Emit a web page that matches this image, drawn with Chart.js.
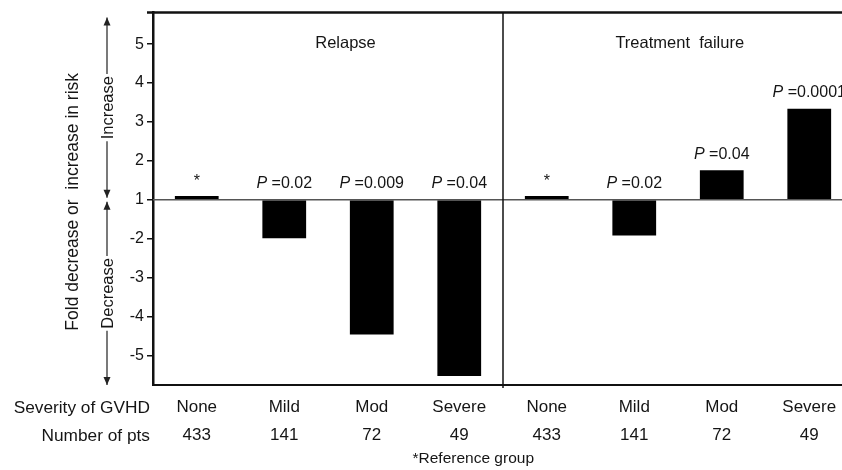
<!DOCTYPE html>
<html>
<head>
<meta charset="utf-8">
<script src="https://cdn.jsdelivr.net/npm/chart.js@4/dist/chart.umd.min.js"></script>
<style>
  html, body { margin: 0; padding: 0; overflow: hidden; background: #fff; }
  #wrap { width: 856px; height: 470px; position: relative; }
</style>
</head>
<body>
<div id="wrap"><canvas id="gvhd-chart"></canvas></div>
<script>
var categories = ['None', 'Mild', 'Mod', 'Severe', 'None', 'Mild', 'Mod', 'Severe'];
var patients = [433, 141, 72, 49, 433, 141, 72, 49];
var relapseFold = [1.1, -1.99, -4.46, -5.53];
var failureFold = [1.1, -1.92, 1.76, 3.34];
var pValues = ['*', '0.02', '0.009', '0.04', '*', '0.02', '0.04', '0.0001'];
var panelTitles = ['Relapse', 'Treatment  failure'];

var FONT = '"Liberation Sans", Arial, Helvetica, sans-serif';
var INK = '#151515';

// fold 1 sits on the zero line, -2 is one step below it, 2 one step above
function toAxis(f) { return f >= 1 ? f - 1 : f + 1; }
function toFold(v) { return v >= 0 ? v + 1 : v - 1; }

var values = relapseFold.concat(failureFold).map(toAxis);

var extras = {
  id: 'extras',
  beforeDatasetsDraw: function (chart) {
    var c = chart.ctx, a = chart.chartArea, y = chart.scales.y;
    var y0 = y.getPixelForValue(0);
    c.save();
    c.strokeStyle = '#555';
    c.lineWidth = 1.5;
    c.beginPath();
    c.moveTo(a.left, y0);
    c.lineTo(a.right, y0);
    c.stroke();
    c.restore();
  },
  afterDraw: function (chart) {
    var c = chart.ctx, a = chart.chartArea, x = chart.scales.x, y = chart.scales.y;
    var y0 = y.getPixelForValue(0);
    c.save();

    // frame top + panel divider
    c.strokeStyle = '#111';
    c.lineWidth = 2.5;
    c.beginPath();
    c.moveTo(a.left - 6, a.top);
    c.lineTo(a.right, a.top);
    c.stroke();
    var xd = x.getPixelForValue(3.5);
    c.lineWidth = 1.5;
    c.beginPath();
    c.moveTo(xd, a.top);
    c.lineTo(xd, a.bottom + 3);
    c.stroke();

    // panel titles
    c.fillStyle = INK;
    c.textAlign = 'center';
    c.textBaseline = 'middle';
    c.font = '16.5px ' + FONT;
    c.fillText(panelTitles[0], x.getPixelForValue(1.7), a.top + 31);
    c.fillText(panelTitles[1], x.getPixelForValue(5.52), a.top + 31);

    // p value labels
    values.forEach(function (v, i) {
      var cx = x.getPixelForValue(i);
      var ty = y.getPixelForValue(Math.max(v, 0)) - 16;
      if (pValues[i] === '*') {
        c.font = '16px ' + FONT;
        c.textAlign = 'center';
        c.fillText('*', cx, ty + 2);
        return;
      }
      var head = 'P', tail = ' =' + pValues[i];
      c.font = 'italic 16px ' + FONT;
      var w1 = c.measureText(head).width;
      c.font = '16px ' + FONT;
      var w2 = c.measureText(tail).width;
      var sx = cx - (w1 + w2) / 2;
      c.textAlign = 'left';
      c.font = 'italic 16px ' + FONT;
      c.fillText(head, sx, ty);
      c.font = '16px ' + FONT;
      c.fillText(tail, sx + w1, ty);
    });

    // y title
    c.textAlign = 'center';
    c.font = '17.5px ' + FONT;
    c.save();
    c.translate(73, (a.top + a.bottom) / 2 + 3);
    c.rotate(-Math.PI / 2);
    c.fillText('Fold decrease or  increase in risk', 0, 0);
    c.restore();

    // increase / decrease arrows
    var ax = 107;
    function arrowPart(y1, y2, label) {
      c.font = '16.5px ' + FONT;
      var half = c.measureText(label).width / 2 + 2;
      var mid = (y1 + y2) / 2;
      c.strokeStyle = '#222';
      c.lineWidth = 1.2;
      c.beginPath();
      c.moveTo(ax, y1); c.lineTo(ax, mid - half);
      c.moveTo(ax, mid + half); c.lineTo(ax, y2);
      c.stroke();
      c.fillStyle = '#222';
      [[y1, 1], [y2, -1]].forEach(function (h) {
        c.beginPath();
        c.moveTo(ax, h[0]);
        c.lineTo(ax - 3.5, h[0] + 8 * h[1]);
        c.lineTo(ax + 3.5, h[0] + 8 * h[1]);
        c.closePath();
        c.fill();
      });
      c.save();
      c.translate(ax, mid);
      c.rotate(-Math.PI / 2);
      c.fillStyle = INK;
      c.fillText(label, 0, 1);
      c.restore();
    }
    arrowPart(a.top + 5, y0 - 2, 'Increase');
    arrowPart(y0 + 2, a.bottom, 'Decrease');

    // row headers under the axis + footnote
    c.fillStyle = INK;
    c.textAlign = 'right';
    c.font = '17.3px ' + FONT;
    c.fillText('Severity of GVHD', a.left - 3, 408);
    c.fillText('Number of pts', a.left - 3, 436);
    c.textAlign = 'center';
    c.font = '15.5px ' + FONT;
    c.fillText('*Reference group', x.getPixelForValue(3.16), 459);
    c.restore();
  }
};

var ctx = document.getElementById('gvhd-chart').getContext('2d');
var chart = new Chart(ctx, {
  type: 'bar',
  data: {
    labels: categories.map(function (c, i) { return [c, String(patients[i])]; }),
    datasets: [{
      data: values,
      backgroundColor: '#000',
      borderWidth: 0,
      barPercentage: 0.5,
      categoryPercentage: 1
    }]
  },
  options: {
    responsive: true,
    maintainAspectRatio: false,
    animation: false,
    layout: { padding: { left: 0, right: 3, top: 9, bottom: 0 } },
    plugins: {
      legend: { display: false },
      tooltip: { enabled: false }
    },
    scales: {
      x: {
        grid: { display: false, drawTicks: false },
        border: { display: true, color: '#111', width: 2 },
        ticks: {
          color: INK,
          padding: 8,
          maxRotation: 0,
          autoSkip: false,
          font: { family: FONT, size: 17, lineHeight: 1.65 }
        },
        afterFit: function (s) { s.height = 85; }
      },
      y: {
        min: -4.76,
        max: 4.81,
        grid: { drawOnChartArea: false, drawTicks: true, tickLength: 6, color: '#111', lineWidth: 1.5 },
        border: { display: true, color: '#111', width: 2.5 },
        ticks: {
          stepSize: 1,
          includeBounds: false,
          padding: 3,
          color: INK,
          font: { family: FONT, size: 16 },
          callback: function (v) { return String(toFold(v)); }
        },
        afterFit: function (s) { s.width = 153; }
      }
    }
  },
  plugins: [extras]
});
</script>
</body>
</html>
